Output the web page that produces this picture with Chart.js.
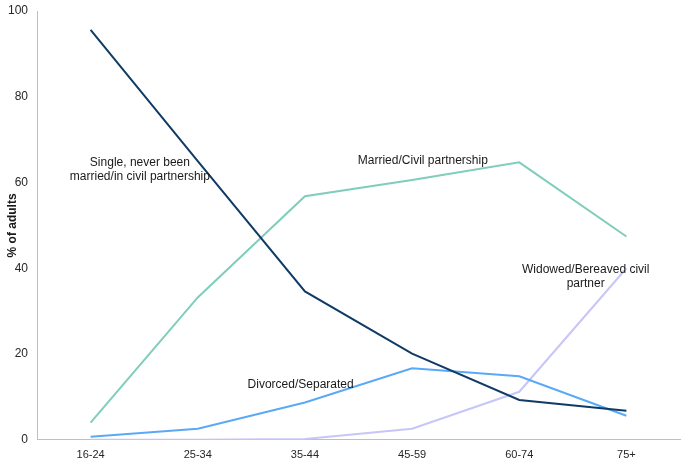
<!DOCTYPE html>
<html>
<head>
<meta charset="utf-8">
<script src="https://cdn.jsdelivr.net/npm/chart.js@4/dist/chart.umd.min.js"></script>
<style>
  html, body { margin: 0; padding: 0; background: #fff; }
  #wrap { width: 689px; height: 468px; }
</style>
</head>
<body>
<div id="wrap"><canvas id="chart" width="689" height="468"></canvas></div>
<script>
  // age bands
  const ageBands = ["16-24", "25-34", "35-44", "45-59", "60-74", "75+"];

  // % of adults per marital status
  const single   = [95.6, 65.0, 34.6, 20.1, 9.3, 6.8];
  const married  = [4.0, 33.2, 56.8, 60.6, 64.7, 47.4];
  const divorced = [0.7, 2.6, 8.7, 16.7, 14.8, 5.6];
  const widowed  = [0.0, 0.0, 0.2, 2.6, 11.2, 40.0];

  const yTicks = [0, 20, 40, 60, 80, 100];
  const yTitle = "% of adults";

  // series labels drawn inside the plot (category index, value)
  const seriesLabels = [
    { text: ["Single, never been", "married/in civil partnership"], cat: 0.46, val: 63.0 },
    { text: ["Married/Civil partnership"], cat: 3.1, val: 65.0 },
    { text: ["Divorced/Separated"], cat: 1.96, val: 12.9 },
    { text: ["Widowed/Bereaved civil", "partner"], cat: 4.62, val: 38.0 }
  ];

  const FONT = "'Liberation Sans', Arial, sans-serif";

  const mkLine = (label, data, color) => ({
    label, data,
    borderColor: color,
    backgroundColor: color,
    borderWidth: 2,
    pointRadius: 0,
    tension: 0,
    fill: false
  });

  // text labels next to the lines + y title (sits over the tick column)
  const labelPlugin = {
    id: "seriesLabels",
    afterDatasetsDraw(chart) {
      const g = chart.ctx;
      const sx = chart.scales.x, sy = chart.scales.y;
      g.save();
      g.font = "12px " + FONT;
      g.fillStyle = "#1a1a1a";
      g.textAlign = "center";
      g.textBaseline = "middle";
      seriesLabels.forEach(l => {
        const x = sx.getPixelForValue(l.cat);
        const y = sy.getPixelForValue(l.val);
        const lh = 14;
        const top = y - (l.text.length - 1) * lh / 2;
        l.text.forEach((t, i) => g.fillText(t, x, top + i * lh));
      });

      const a = chart.chartArea;
      g.translate(13, (a.top + a.bottom) / 2);
      g.rotate(-Math.PI / 2);
      g.font = "bold 12px " + FONT;
      g.fillText(yTitle, 0, 0);
      g.restore();
    }
  };

  new Chart(document.getElementById("chart"), {
    type: "line",
    data: {
      labels: ageBands,
      datasets: [
        mkLine("Single, never been married/in civil partnership", single, "#0f3b66"),
        mkLine("Married/Civil partnership", married, "#7fcdbb"),
        mkLine("Divorced/Separated", divorced, "#5aa9f7"),
        mkLine("Widowed/Bereaved civil partner", widowed, "#c8c6f8")
      ]
    },
    options: {
      responsive: false,
      animation: false,
      devicePixelRatio: 1,
      layout: { padding: { top: 11, right: 9, bottom: -3, left: -1 } },
      plugins: {
        legend: { display: false },
        tooltip: { enabled: false }
      },
      scales: {
        x: {
          offset: true,
          grid: { display: false, drawTicks: false },
          border: { color: "#bfbfbf", width: 1 },
          ticks: { color: "#262626", font: { family: FONT, size: 11 }, padding: 9 }
        },
        y: {
          min: 0, max: 100,
          afterBuildTicks: axis => { axis.ticks = yTicks.map(v => ({ value: v })); },
          afterFit: axis => { axis.paddingTop = 0; },
          grid: { display: false, drawTicks: false },
          border: { color: "#bfbfbf", width: 1 },
          ticks: { color: "#262626", font: { family: FONT, size: 12 }, padding: 9 }
        }
      }
    },
    plugins: [labelPlugin]
  });
</script>
</body>
</html>
